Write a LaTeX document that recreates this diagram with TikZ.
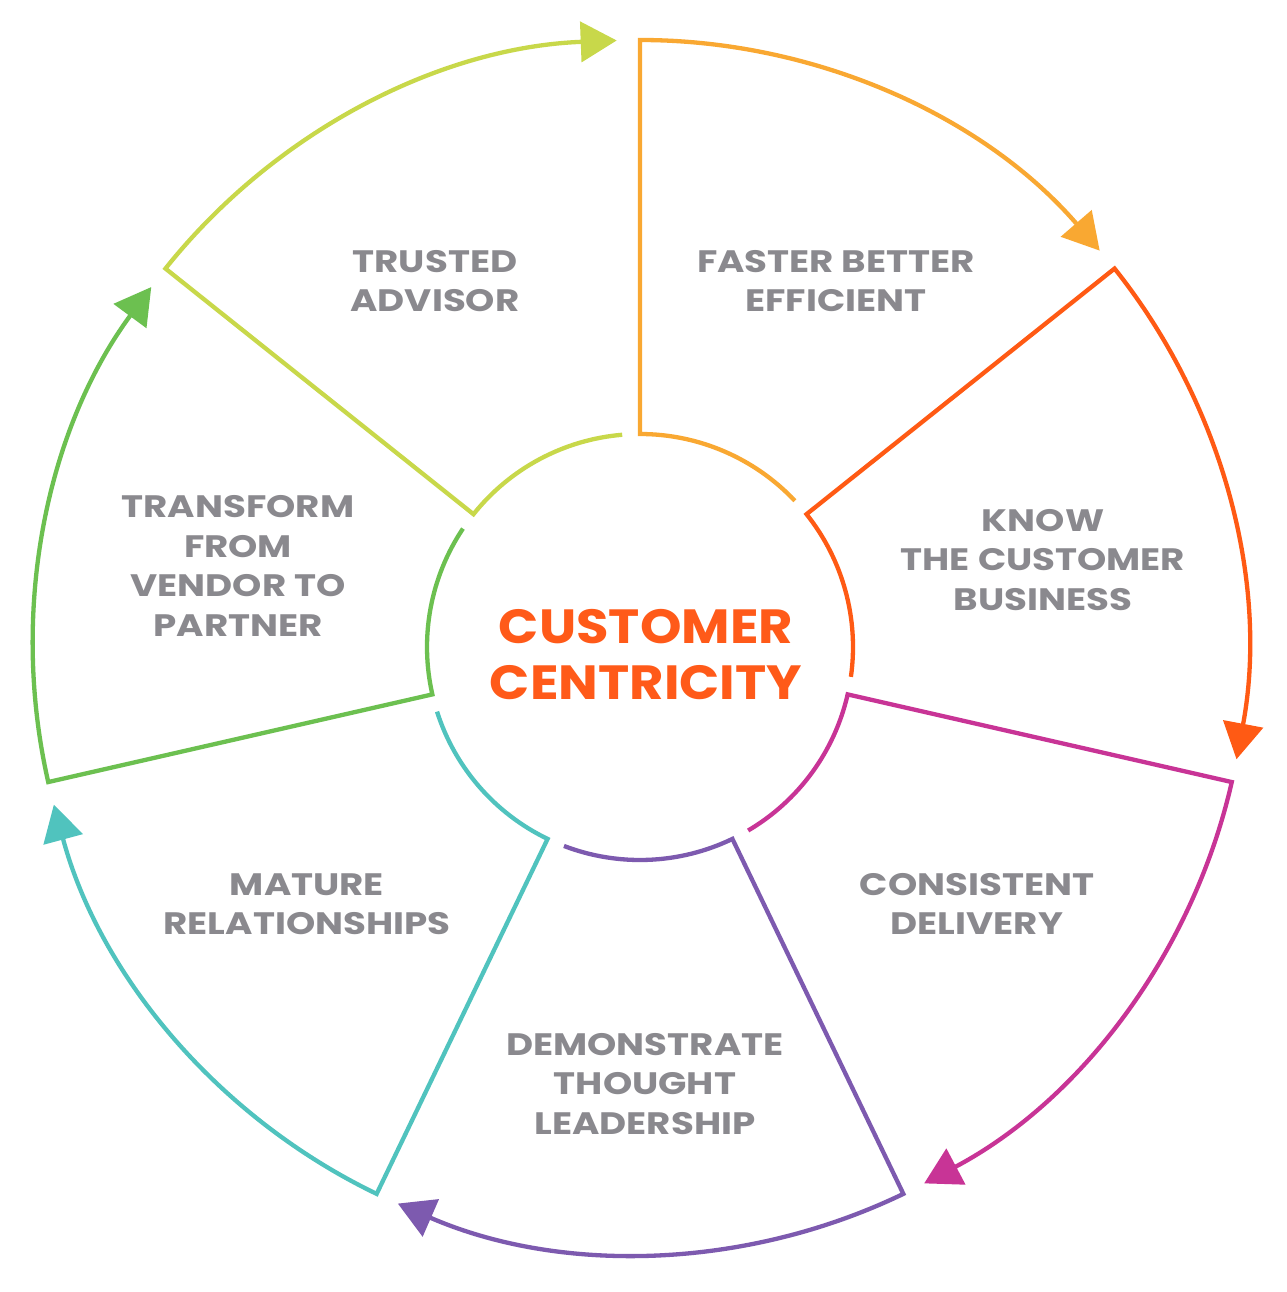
\documentclass[tikz,border=0pt]{standalone}
\usepackage{fontspec}
\setmainfont{Poppins}
\newfontfamily\lblfont{Poppins}[FakeStretch=1.2]
\newfontfamily\ctrfont{Poppins}[FakeStretch=1.1]
\usetikzlibrary{arrows.meta,calc}
\definecolor{cOrange}{RGB}{249,168,50}
\definecolor{cRed}{RGB}{255,90,20}
\definecolor{cMagenta}{RGB}{200,52,150}
\definecolor{cPurple}{RGB}{125,90,175}
\definecolor{cCyan}{RGB}{80,195,190}
\definecolor{cGreen}{RGB}{108,192,80}
\definecolor{cYellow}{RGB}{200,216,74}
\definecolor{txtgray}{RGB}{138,137,142}
\definecolor{centertxt}{RGB}{255,90,25}
\tikzset{
  segline/.style={line width=4.3pt, line join=miter, -{Triangle[length=36pt,width=40pt]}},
  lbl/.style={text=txtgray, font=\lblfont\fontsize{31}{39.5}\selectfont\bfseries, align=center},
  ctr/.style={text=centertxt, font=\ctrfont\fontsize{48}{56}\selectfont\bfseries, align=center}
}
\begin{document}
\begin{tikzpicture}[x=1pt,y=1pt]
\useasboundingbox[fill=white] (0,0) rectangle (1286,-1292);
\coordinate (C) at (640,-647);
\foreach \k/\col in {0/cOrange,1/cRed,2/cMagenta,3/cPurple,4/cCyan,5/cGreen,6/cYellow}{
  \pgfmathsetmacro{\bs}{90-51.4286*\k}
  \pgfmathsetmacro{\bi}{\bs-51.4286+4.8}
  \pgfmathsetmacro{\bo}{\bs-51.4286+2.2}
  \draw[segline,draw=\col,fill=none,\col] ($(C)+(\bi:213)$) arc[start angle=\bi, end angle=\bs, radius=213]
     -- ($(C)+(\bs:607)$) arc[start angle=\bs, end angle=\bo, radius=607];
}
\node[lbl] (trusted) at (435,-281) {TRUSTED\\ADVISOR};
\node[lbl] (faster) at (836,-281) {FASTER BETTER\\EFFICIENT};
\node[lbl] (know) at (1043,-560) {KNOW\\THE CUSTOMER\\BUSINESS};
\node[lbl] (consistent) at (977,-904) {CONSISTENT\\DELIVERY};
\node[lbl] (demo) at (645,-1084) {DEMONSTRATE\\THOUGHT\\LEADERSHIP};
\node[lbl] (mature) at (307,-904) {MATURE\\RELATIONSHIPS};
\node[lbl] (transform) at (238,-566) {TRANSFORM\\FROM\\VENDOR TO\\PARTNER};
\node[ctr] (center) at (646,-655) {CUSTOMER\\CENTRICITY};
\end{tikzpicture}
\end{document}
